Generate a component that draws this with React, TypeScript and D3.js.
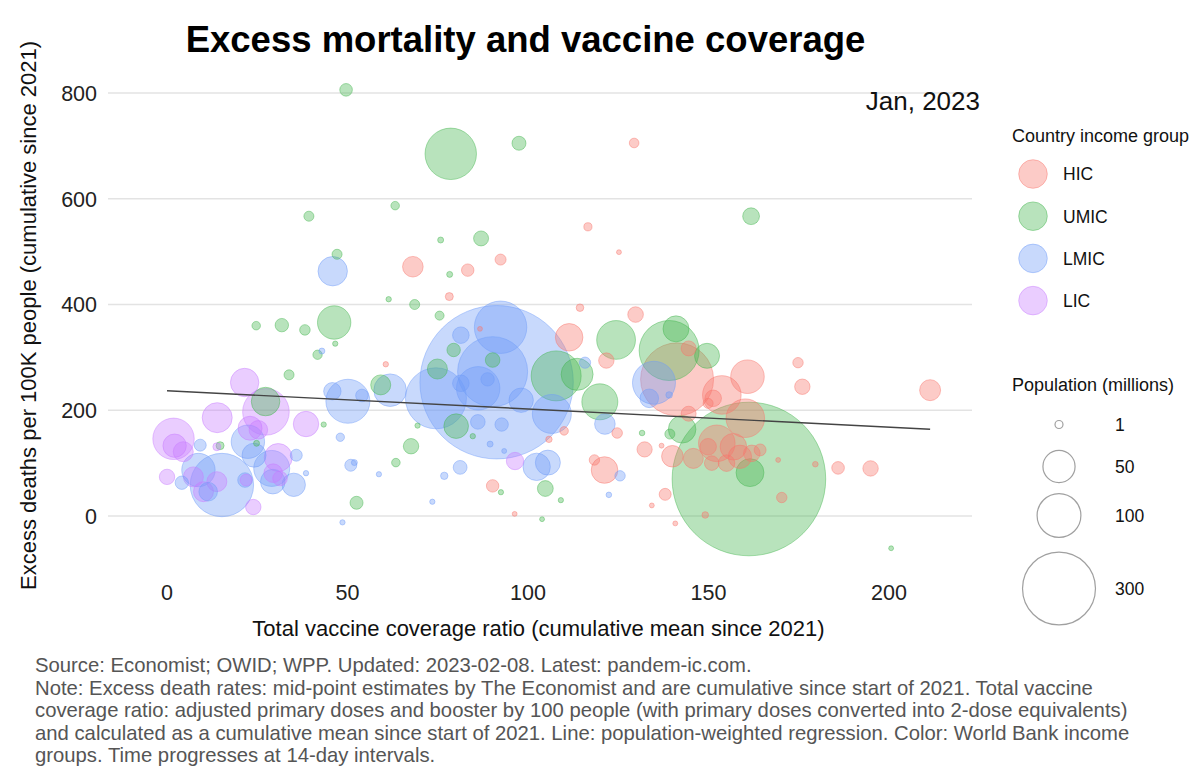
import React from 'react';
import * as d3 from 'd3';

// [coverage ratio, excess deaths per 100K, population (millions)]
const hic: [number, number, number][] = [
  [68.1, 471.5, 17.4], [83.3, 465, 4.5], [78.2, 415, 1.0], [92.4, 485, 3.1],
  [129.4, 705.5, 2.0], [116.6, 547, 1.1], [125.2, 499, 0.05], [114.4, 394, 0.8],
  [129.8, 381, 8.5], [111.4, 338, 35], [60.6, 287, 0.12], [110.0, 161, 1.3],
  [105.8, 145, 0.36], [90.2, 57, 4.5], [96.3, 4, 0.05], [86.7, 354, 0.05],
  [121.7, 294, 8.2], [124.7, 157, 2.7], [118.4, 106, 2.6], [121.2, 87, 32.2],
  [132.3, 126, 7.9], [137.0, 133, 0.05], [140.0, 113, 19.5], [138.0, 41, 4.0],
  [134.3, 20, 0.05], [140.8, -14, 0.05], [149.1, 2, 0.43], [141.3, 258.5, 300],
  [144.5, 193.5, 7.6], [144.5, 317, 7.6], [153.7, 229, 75.5], [160.8, 263.5, 55.3],
  [160.2, 185, 75.5], [152.3, 137.5, 67], [156.9, 131, 32.2], [149.9, 131, 10],
  [158.7, 112, 23.7], [162.0, 118.5, 10], [164.3, 125, 4.0], [150.9, 100, 7.1],
  [155.0, 100, 10], [145.8, 109, 16.2], [151.3, 222.6, 10], [149.9, 213, 2.3],
  [170.3, 35, 2.6], [169.3, 106, 0.05], [179.6, 98, 0.16], [174.8, 290, 2.6],
  [176.0, 244.5, 8.2], [185.9, 91, 4.7], [194.9, 90, 8.2], [211.4, 238, 18.2],
];

const umic: [number, number, number][] = [
  [49.6, 806, 4.7], [78.6, 685, 142], [39.3, 567, 2.3], [63.2, 587, 1.3],
  [75.8, 522, 0.25], [87.0, 525, 7.6], [47.1, 495, 2.3], [78.3, 457, 0.25],
  [61.4, 410, 0.12], [68.6, 400, 2.3], [75.5, 379, 1.6], [24.7, 360, 1.3],
  [31.8, 361, 5.6], [38.2, 352, 2.7], [46.3, 366, 54.5], [46.6, 326, 0.1],
  [41.7, 305, 1.8], [97.5, 705, 6.3], [161.8, 567, 10.3], [27.3, 216.5, 38],
  [33.8, 267, 2.3], [14.7, 133, 1.0], [24.8, 137.5, 0.25], [43.4, 173, 0.1],
  [52.5, 25, 5.1], [59.2, 248, 16.2], [74.9, 278, 16.2], [79.4, 314, 5.6],
  [90.2, 295, 7.1], [80.1, 170, 26.8], [84.7, 151, 0.12], [67.6, 132, 8.2],
  [63.4, 101, 1.3], [69.4, 171, 0.1], [104.8, 52, 8.8], [92.5, 45, 0.1],
  [109.1, 30, 0.1], [103.9, -6, 0.05], [107.8, 265, 133.5], [113.6, 268, 49.5],
  [124.4, 333, 76.4], [139.1, 313, 198], [141.0, 354, 30.5], [149.6, 303, 27.8],
  [119.9, 216, 64.6], [131.6, 157, 0.16], [139.3, 155, 2.3], [142.7, 164, 35],
  [161.5, 82, 36], [161.2, 70, 1412], [200.6, -61, 0.05],
];

const lmic: [number, number, number][] = [
  [45.9, 463, 40.7], [42.9, 312, 0.25], [91.3, 253, 1408], [92.4, 357, 148],
  [81.4, 342, 10], [90.2, 273, 275], [86.2, 241.5, 98], [88.8, 258.5, 5.6],
  [81.4, 251, 10], [74.5, 222.6, 205], [50.1, 217, 101], [45.8, 236, 11.3],
  [54.0, 228, 4.7], [61.8, 238, 51.6], [98.1, 219, 26.3], [106.6, 193, 77.3],
  [86.1, 178, 7.1], [92.7, 173, 5.6], [89.5, 136, 0.25], [93.4, 123, 0.06],
  [102.4, 93, 34.5], [105.5, 101, 27.8], [81.2, 92, 6.1], [50.9, 96, 4.0],
  [51.9, 101, 0.25], [48.0, 149, 1.2], [58.7, 79, 0.1], [76.8, 76, 0.73],
  [73.5, 27, 0.1], [48.6, -12, 0.1], [115.8, 290, 3.3], [121.3, 174, 17.4],
  [125.5, 76, 2.6], [122.4, 40, 0.16], [134.9, 252, 96], [133.6, 222.6, 13.5],
  [139.1, 229, 0.43], [15.2, 58.6, 222.6], [9.2, 134, 4.0], [4.1, 63, 5.6],
  [22.4, 140.5, 54.5], [29.3, 65, 26.8], [35.1, 59, 23.7], [38.5, 81, 0.12],
  [35.8, 115, 4.0], [8.7, 87, 54.5], [11.4, 46, 13.5], [24.1, 115, 25.2],
  [29.0, 90, 64.6], [21.6, 68, 7.1],
];

const lic: [number, number, number][] = [
  [21.5, 252.5, 37.6], [27.4, 197, 114.5], [13.9, 186, 42.7], [1.8, 146, 88.3],
  [2.1, 133, 23.7], [4.5, 121.6, 16.2], [38.5, 174, 28.9], [0, 74, 8.2],
  [23.9, 17, 8.2], [30.8, 110.6, 36.3], [23.0, 166, 25.2], [25.3, 163, 13.5],
  [21.9, 68, 4.0], [7.3, 74, 16.2], [10.1, 46, 16.2], [13.8, 65, 16.2],
  [13.8, 131, 1.0], [29.4, 81, 13.5], [31.3, 71, 7.1], [96.4, 104, 11.3],
];

const groupNames = ['HIC', 'UMIC', 'LMIC', 'LIC'];
const groupColors = ['#F8766D', '#45B550', '#6F9BF8', '#C77CFF'];
const groupData = [hic, umic, lmic, lic];

const xTicks = [0, 50, 100, 150, 200];
const yTicks = [0, 200, 400, 600, 800];
const sizeBreaks = [1, 50, 100, 300];

// population-weighted regression, endpoints [coverage, deaths]
const fitLine: [number, number][] = [[0, 237], [211.4, 164]];

const footer = [
  'Source: Economist; OWID; WPP. Updated: 2023-02-08. Latest: pandem-ic.com.',
  'Note: Excess death rates: mid-point estimates by The Economist and are cumulative since start of 2021. Total vaccine',
  'coverage ratio: adjusted primary doses and booster by 100 people (with primary doses converted into 2-dose equivalents)',
  'and calculated as a cumulative mean since start of 2021. Line: population-weighted regression. Color: World Bank income',
  'groups. Time progresses at 14-day intervals.',
];

const FONT = '"Liberation Sans", Arial, sans-serif';

export default function App() {
  const W = 1200;
  const H = 781;
  const left = 108, right = 972, top = 61.3, bottom = 563.6;

  const x = d3.scaleLinear().domain([-15.8, 223]).range([110, right]);
  const y = d3.scaleLinear().domain([-90, 860]).range([bottom, top]);
  const r = d3.scaleSqrt().domain([0, 1420]).range([2, 77]);
  const color = d3.scaleOrdinal<string, string>().domain(groupNames).range(groupColors);

  const points = groupData
    .flatMap((arr, gi) => arr.map(([cx, cy, pop]) => ({ cx, cy, pop, g: groupNames[gi] })))
    .sort((a, b) => b.pop - a.pop);

  const line = d3.line<[number, number]>().x(d => x(d[0])).y(d => y(d[1]));

  return (
    <svg width={W} height={H} style={{ position: 'absolute', left: 0, top: 0, background: '#fff' }}
      fontFamily={FONT}>
      <rect width={W} height={H} fill="#fff" />
      <text x={525.5} y={52} textAnchor="middle" fontSize={36.5} fontWeight="bold" fill="#000">
        Excess mortality and vaccine coverage
      </text>

      {yTicks.map(t => (
        <g key={t}>
          <line x1={left} x2={right} y1={y(t)} y2={y(t)} stroke="#e3e3e3" strokeWidth={1.6} />
          <text x={97} y={y(t)} dy="0.36em" textAnchor="end" fontSize={21.5} fill="#222">{t}</text>
        </g>
      ))}
      {xTicks.map(t => (
        <text key={t} x={x(t)} y={600} textAnchor="middle" fontSize={21.5} fill="#222">{t}</text>
      ))}

      <g>
        {points.map((p, i) => (
          <circle key={i} cx={x(p.cx)} cy={y(p.cy)} r={r(p.pop)}
            fill={color(p.g)} fillOpacity={0.38}
            stroke={color(p.g)} strokeOpacity={0.45} strokeWidth={1} />
        ))}
      </g>

      <path d={line(fitLine) || ''} fill="none" stroke="#444" strokeWidth={1.4} />

      <text x={980} y={110} textAnchor="end" fontSize={26} fill="#111">Jan, 2023</text>

      <text x={538.5} y={636} textAnchor="middle" fontSize={22} fill="#111">
        Total vaccine coverage ratio (cumulative mean since 2021)
      </text>
      <text transform={`translate(36,${(top + bottom) / 2 + 3}) rotate(-90)`} textAnchor="middle"
        fontSize={22} fill="#111">
        Excess deaths per 100K people (cumulative since 2021)
      </text>

      {/* colour legend */}
      <text x={1012} y={142} fontSize={18} fill="#111">Country income group</text>
      {groupNames.map((g, i) => (
        <g key={g}>
          <circle cx={1033} cy={174 + i * 42.2} r={14.3} fill={color(g)} fillOpacity={0.38}
            stroke={color(g)} strokeOpacity={0.45} />
          <text x={1063} y={174 + i * 42.2} dy="0.36em" fontSize={17.5} fill="#111">{g}</text>
        </g>
      ))}

      {/* size legend */}
      <text x={1012} y={391} fontSize={18} fill="#111">Population (millions)</text>
      {sizeBreaks.map((s, i) => {
        const cy = [424.5, 466.5, 515.5, 588.5][i];
        return (
          <g key={s}>
            <circle cx={1059} cy={cy} r={r(s)} fill="none" stroke="#a0a0a0" strokeWidth={1.2} />
            <text x={1115} y={cy} dy="0.36em" fontSize={17.5} fill="#111">{s}</text>
          </g>
        );
      })}

      {footer.map((l, i) => (
        <text key={i} x={35} y={672 + i * 22.6} fontSize={20.3} fill="#555">{l}</text>
      ))}
    </svg>
  );
}
